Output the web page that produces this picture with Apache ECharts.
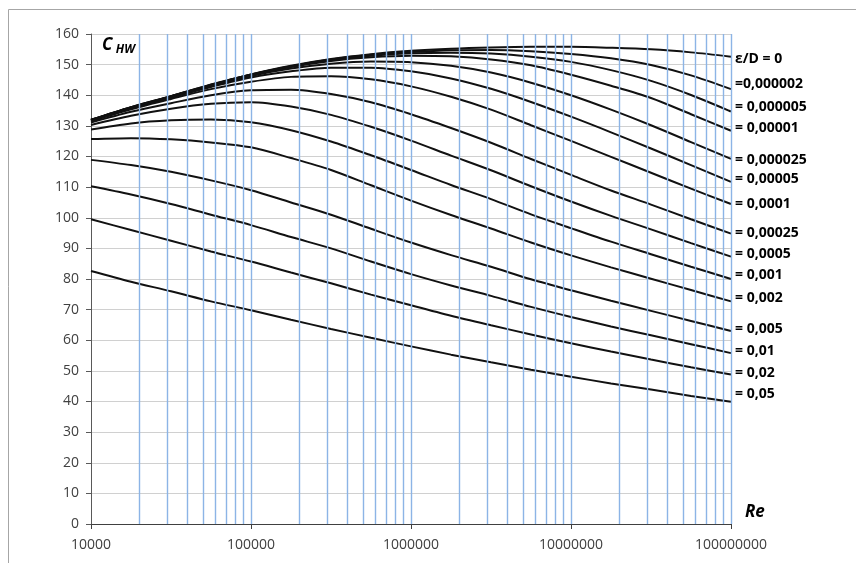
<!DOCTYPE html>
<html>
<head>
<meta charset="utf-8">
<title>C HW vs Re</title>
<script src="https://cdn.jsdelivr.net/npm/echarts@6/dist/echarts.min.js"></script>
<style>
  html, body { margin: 0; padding: 0; background: #fff; }
  #chart { width: 856px; height: 563px; }
</style>
</head>
<body>
<div id="chart"></div>
<script>
// Reynolds numbers where the curves were read (quarter decades)
var reValues = [10000, 17783, 31623, 56234, 100000, 177828, 316228, 562341, 1000000,
  1778279, 3162278, 5623413, 10000000, 17782794, 31622777, 56234133, 100000000];

// C_HW, one array per relative roughness
var cEps0      = [132.0, 136.1, 139.7, 143.5, 146.8, 149.6, 151.8, 153.4, 154.5, 155.2, 155.6, 155.8, 155.8, 155.5, 155.0, 154.0, 152.6];
var cEps000002 = [132.0, 136.1, 139.7, 143.4, 146.8, 149.5, 151.7, 153.2, 154.1, 154.7, 154.8, 154.4, 153.5, 152.1, 149.9, 146.5, 142.0];
var cEps000005 = [131.9, 136.0, 139.6, 143.3, 146.7, 149.4, 151.5, 152.9, 153.7, 153.9, 153.6, 152.6, 150.9, 148.2, 144.7, 140.1, 134.7];
var cEps00001  = [131.9, 135.9, 139.6, 143.2, 146.5, 149.2, 151.2, 152.4, 152.9, 152.7, 151.7, 149.8, 146.7, 143.1, 139.1, 133.8, 128.4];
var cEps000025 = [131.8, 135.8, 139.4, 143.0, 146.3, 148.7, 150.3, 151.0, 150.8, 149.6, 147.4, 144.1, 140.0, 135.3, 130.2, 124.7, 119.2];
var cEps00005  = [131.7, 135.7, 139.2, 142.7, 145.8, 147.8, 149.0, 149.0, 147.8, 145.5, 142.1, 137.8, 133.0, 127.9, 122.6, 117.2, 111.7];
var cEps0001   = [131.5, 135.4, 138.8, 142.0, 144.4, 146.0, 146.2, 145.2, 142.9, 139.5, 135.3, 130.2, 125.1, 119.9, 114.7, 109.5, 104.5];
var cEps00025  = [131.1, 134.6, 137.4, 140.0, 141.6, 141.8, 140.4, 137.7, 133.8, 129.3, 124.5, 119.2, 114.0, 108.9, 104.3, 99.5, 94.8];
var cEps0005   = [130.3, 133.3, 135.6, 137.2, 137.7, 136.3, 133.6, 129.7, 125.2, 120.3, 115.5, 110.3, 105.3, 100.6, 96.2, 91.7, 87.3];
var cEps001    = [128.8, 130.8, 131.8, 132.1, 131.2, 128.6, 124.9, 120.4, 115.6, 110.7, 106.1, 101.1, 96.6, 92.2, 88.1, 84.0, 80.0];
var cEps002    = [125.7, 126.0, 125.6, 124.6, 123.0, 119.5, 115.6, 110.6, 105.6, 100.9, 96.5, 91.9, 87.7, 83.8, 80.1, 76.4, 72.7];
var cEps005    = [118.9, 117.2, 115.0, 112.2, 109.0, 105.0, 101.0, 96.4, 91.9, 87.8, 84.0, 79.9, 76.3, 72.9, 69.6, 66.3, 63.0];
var cEps01     = [110.3, 107.6, 104.5, 101.0, 97.6, 93.7, 90.0, 85.7, 81.6, 77.9, 74.5, 70.9, 67.6, 64.5, 61.6, 58.7, 55.8];
var cEps02     = [99.5, 96.0, 92.5, 89.0, 85.7, 82.1, 78.6, 74.9, 71.4, 68.0, 64.9, 61.9, 59.0, 56.3, 53.7, 51.2, 48.8];
var cEps05     = [82.6, 79.1, 76.0, 72.7, 69.8, 66.7, 63.7, 60.8, 58.0, 55.3, 52.8, 50.4, 48.1, 45.9, 43.9, 41.8, 39.9];

var curves = [cEps0, cEps000002, cEps000005, cEps00001, cEps000025, cEps00005, cEps0001,
  cEps00025, cEps0005, cEps001, cEps002, cEps005, cEps01, cEps02, cEps05];
var roughLabels = ['ε/D = 0', '=0,000002', '= 0,000005', '= 0,00001', '= 0,000025', '= 0,00005',
  '= 0,0001', '= 0,00025', '= 0,0005', '= 0,001', '= 0,002', '= 0,005', '= 0,01', '= 0,02', '= 0,05'];

// y ticks
var yTicks = { min: 0, max: 160, step: 10 };

// vertical log grid lines: 2..10 in every decade
var gridMultipliers = [2, 3, 4, 5, 6, 7, 8, 9, 10];
var gridDecades = [10000, 100000, 1000000, 10000000];

// label nudges (px) so the end labels sit like in the picture
var labelDy = [2, -5, -4, -3, 1, -3, 0, -1, -3, -4, -3, -2, -2, -2, -8];

var reGridLines = [];
gridDecades.forEach(function (d) {
  gridMultipliers.forEach(function (m) {
    reGridLines.push({ xAxis: d * m });
  });
});

var series = [];
series.push({
  type: 'line',
  name: 'grid',
  data: [],
  z: 1,
  silent: true,
  markLine: {
    silent: true,
    symbol: ['none', 'none'],
    label: { show: false },
    lineStyle: { color: '#8cb4e6', width: 1.4, type: 'solid' },
    data: reGridLines
  }
});

curves.forEach(function (vals, i) {
  series.push({
    type: 'line',
    name: roughLabels[i],
    data: reValues.map(function (re, k) { return [re, vals[k]]; }),
    smooth: 0.3,
    showSymbol: false,
    z: 3,
    lineStyle: { color: '#111', width: 2 },
    endLabel: {
      show: true,
      formatter: roughLabels[i],
      distance: 4,
      offset: [0, labelDy[i]],
      color: '#000',
      fontFamily: 'Open Sans',
      fontWeight: 'bold',
      fontSize: 14
    }
  });
});

var chart = echarts.init(document.getElementById('chart'));
chart.setOption({
  animation: false,
  backgroundColor: '#fff',
  grid: { left: 91, right: 125, top: 34, bottom: 39 },
  xAxis: {
    type: 'log',
    logBase: 10,
    min: 10000,
    max: 100000000,
    axisLine: { show: true, lineStyle: { color: '#404040', width: 1 } },
    axisTick: { show: true, length: 5, lineStyle: { color: '#404040' } },
    axisLabel: {
      margin: 14,
      color: '#404040',
      fontFamily: 'Open Sans',
      fontSize: 14,
      formatter: function (v) { return String(Math.round(v)); }
    },
    splitLine: { show: false }
  },
  yAxis: {
    type: 'value',
    min: yTicks.min,
    max: yTicks.max,
    interval: yTicks.step,
    axisLine: { show: true, lineStyle: { color: '#595959', width: 1 } },
    axisTick: { show: true, length: 5, lineStyle: { color: '#595959' } },
    axisLabel: { margin: 12, color: '#404040', fontFamily: 'Open Sans', fontSize: 14 },
    splitLine: { show: true, lineStyle: { color: '#d0d0d0', width: 1 } }
  },
  graphic: [
    {
      type: 'rect',
      silent: true,
      shape: { x: 8.5, y: 9.5, width: 900, height: 600 },
      style: { fill: 'none', stroke: '#a6a6a6', lineWidth: 1 }
    },
    {
      type: 'text',
      left: 102,
      top: 37,
      style: {
        text: '{c|C} {s|HW}',
        rich: {
          c: { fontFamily: 'Open Sans', fontStyle: 'italic', fontWeight: 'bold', fontSize: 17, fill: '#000' },
          s: { fontFamily: 'Open Sans', fontStyle: 'italic', fontWeight: 'bold', fontSize: 12, fill: '#000', padding: [8, 0, 0, 0] }
        }
      }
    },
    {
      type: 'text',
      left: 745,
      top: 504,
      style: { text: 'Re', fontFamily: 'Open Sans', fontStyle: 'italic', fontWeight: 'bold', fontSize: 17, fill: '#000' }
    }
  ],
  series: series
});
</script>
</body>
</html>
